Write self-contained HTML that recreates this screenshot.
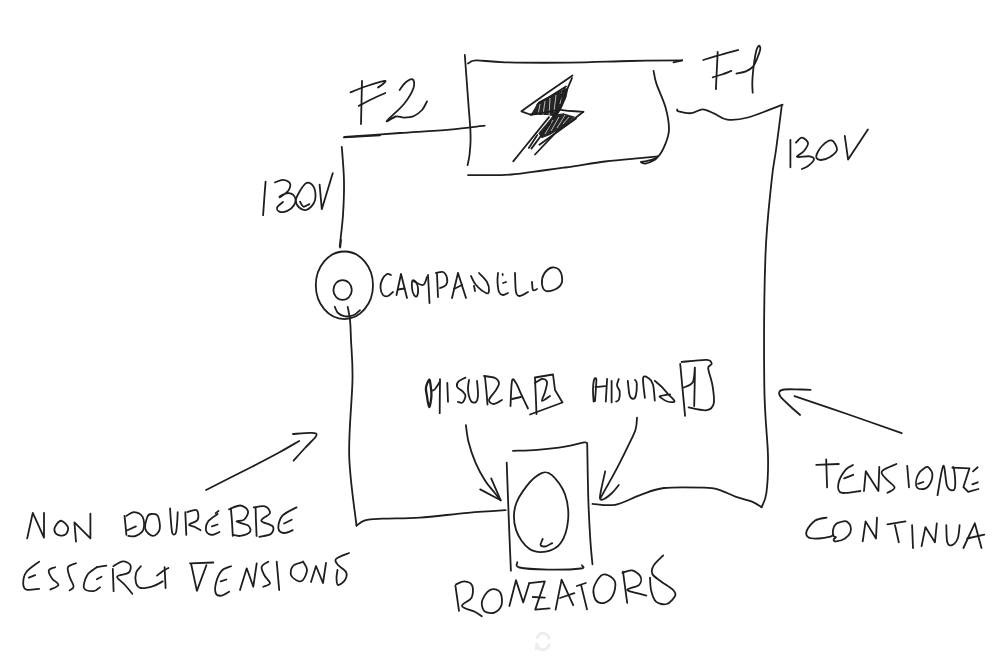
<!DOCTYPE html>
<html><head><meta charset="utf-8"><style>
html,body{margin:0;padding:0;background:#fff;}
body{width:1000px;height:660px;overflow:hidden;font-family:"Liberation Sans",sans-serif;}
svg{display:block;}
</style></head><body>
<svg width="1000" height="660" viewBox="0 0 1000 660">
<rect width="1000" height="660" fill="#fff"/>
<polygon points="530,116 538.3,101.7 558.3,91.7 568.3,87.5 566.7,96.7 561.7,108.3 556.7,116.7 546.7,115 535,115" fill="#262626"/>
<polygon points="538.3,133.3 546.7,123.3 553.3,115 563.3,113.3 575,116.7 563.3,126.7 550,135 541.7,138.3" fill="#262626"/>
<g stroke="#fff" stroke-width="0.9" opacity="0.75" fill="none"><path d="M540,104 L538,115 M545,101 L543,115 M550,98 L549,116 M556,95 L554,112 M562,92 L560,104"/><path d="M545,134 L553,120 M551,131 L559,117 M557,128 L565,115 M563,124 L569,117"/></g>
<ellipse cx="344.4" cy="285.3" rx="28.6" ry="33.8" fill="none" stroke="#1e1e1e" stroke-width="1.8"/>
<ellipse cx="342.6" cy="290" rx="9.2" ry="9.9" fill="none" stroke="#1e1e1e" stroke-width="1.8"/>
<g fill="none" stroke="#ededed" stroke-width="3"><path d="M537,639 A6,6 0 0 1 549,639.5"/><path d="M549,643.5 A6,6 0 0 1 537,644"/><path d="M536.5,643 L536.5,650"/></g>
<g fill="none" stroke="#1e1e1e" stroke-width="1.8" stroke-linecap="round" stroke-linejoin="round">
<path d="M362.0,81.0 C361.9,84.5 361.7,94.8 361.5,102.0 C361.3,109.2 361.1,120.3 361.0,124.0"/>
<path d="M350.5,92.3 C353.2,91.2 361.3,87.9 367.0,86.0 C372.7,84.1 381.8,81.2 384.5,80.9 C387.2,80.6 384.1,82.9 383.0,84.0 C381.9,85.1 378.8,86.9 378.0,87.5"/>
<path d="M358.8,105.9 C361.0,104.8 367.6,101.2 372.0,99.0 C376.4,96.8 383.1,94.0 385.3,93.0"/>
<path d="M399.7,90.0 C400.6,88.8 402.9,84.8 405.0,83.0 C407.1,81.2 411.2,78.6 412.6,79.4 C414.0,80.2 414.9,83.9 413.5,88.0 C412.1,92.1 408.4,98.5 404.0,104.0 C399.6,109.5 388.1,118.9 386.8,121.0 C385.5,123.1 393.1,117.1 396.0,116.5 C398.9,115.9 401.0,117.7 404.0,117.6 C407.0,117.5 411.0,117.3 414.0,116.0 C417.0,114.7 419.8,112.4 422.0,110.0 C424.2,107.6 426.2,102.8 427.0,101.4"/>
<path d="M344.4,137.0 C353.7,136.3 382.4,134.2 400.0,133.0 C417.6,131.8 435.9,130.8 450.0,129.6 C464.1,128.4 478.9,126.3 484.7,125.7"/>
<path d="M344.0,137.4 L380.0,135.3"/>
<path d="M341.8,147.0 C342.2,152.7 343.8,169.7 344.0,181.0 C344.2,192.3 343.7,204.0 343.0,214.9 C342.3,225.8 340.2,241.4 339.7,246.7"/>
<path d="M464.8,55.0 C465.1,59.3 466.1,72.1 466.7,80.7 C467.3,89.3 468.0,98.5 468.6,106.4 C469.2,114.3 470.0,122.7 470.3,128.3 C470.6,133.9 470.7,135.6 470.6,140.0 C470.5,144.4 470.0,150.8 469.5,155.0 C469.0,159.2 467.9,163.5 467.6,165.2"/>
<path d="M468.0,63.5 C469.3,63.0 469.8,60.6 476.0,60.4 C482.2,60.2 489.3,61.9 505.0,62.3 C520.7,62.7 549.2,62.8 570.0,62.6 C590.8,62.4 611.3,61.4 630.0,61.0 C648.7,60.6 673.5,60.4 682.2,60.3"/>
<path d="M673.5,62.4 L682.2,60.3"/>
<path d="M468.0,175.1 C472.7,175.1 488.2,175.3 496.0,175.2 C503.8,175.0 503.5,175.5 515.0,174.2 C526.5,172.9 550.0,169.6 565.0,167.5 C580.0,165.4 592.5,163.1 605.0,161.5 C617.5,159.9 631.1,159.0 640.0,158.2 C648.9,157.3 655.2,156.7 658.2,156.4"/>
<path d="M653.6,70.9 C654.1,73.0 654.4,77.5 656.4,83.6 C658.4,89.7 663.4,99.7 665.5,107.3 C667.6,114.9 669.0,123.0 669.0,129.0 C669.0,135.1 667.3,139.0 665.5,143.6 C663.7,148.2 661.2,153.5 658.2,156.4 C655.2,159.3 650.2,160.0 647.3,160.9 C644.4,161.8 641.2,161.4 640.9,161.8 C640.6,162.2 643.2,163.9 645.5,163.6 C647.8,163.3 652.4,161.2 654.5,160.0 C656.6,158.8 657.6,157.0 658.2,156.4"/>
<path d="M572.5,75.4 L547.0,93.0 L521.4,111.3 L530.0,114.5 L545.0,112.5 L559.5,109.7"/>
<path d="M566.0,86.4 L537.3,104.4"/>
<path d="M572.0,78.0 C571.3,79.6 570.1,82.3 568.0,87.4 C565.9,92.5 562.0,103.7 559.5,108.6 C557.0,113.5 554.3,115.3 553.3,116.7"/>
<path d="M564.8,88.5 L556.4,106.5"/>
<path d="M559.5,109.7 C560.9,109.9 564.0,110.5 568.0,110.8 C572.0,111.1 580.8,111.6 583.4,111.8"/>
<path d="M583.4,111.8 L572.3,120.3 L557.4,130.9 L535.0,154.5"/>
<path d="M576.0,118.6 L539.4,144.7"/>
<path d="M549.0,117.1 L522.4,150.0 L513.2,161.4"/>
<path d="M537.3,135.1 L528.8,147.9"/>
<path d="M550.5,123.0 L531.4,148.6"/>
<path d="M717.7,51.8 C717.6,54.8 717.1,63.8 716.8,70.0 C716.5,76.2 716.0,85.9 715.9,89.1"/>
<path d="M703.2,60.0 C706.0,59.2 714.2,56.7 720.0,55.0 C725.8,53.3 735.2,50.8 738.2,50.0"/>
<path d="M712.7,77.3 C714.2,76.8 718.9,75.6 722.0,74.5 C725.1,73.4 729.8,71.5 731.4,70.9"/>
<path d="M736.4,73.6 C738.0,73.2 743.1,72.6 745.9,71.4 C748.7,70.2 751.3,68.7 753.2,66.4 C755.1,64.1 756.3,60.4 757.5,57.5 C758.7,54.6 760.0,51.0 760.3,49.0 C760.5,47.0 759.6,45.6 759.0,45.8 C758.4,46.0 757.2,47.6 756.5,50.0 C755.8,52.4 755.0,56.7 754.5,60.0 C754.0,63.3 753.6,66.2 753.2,70.0 C752.8,73.8 752.4,78.9 752.3,82.7 C752.2,86.5 752.6,91.0 752.7,92.7"/>
<path d="M677.3,109.5 C677.5,109.8 676.2,110.7 678.5,111.3 C680.8,111.9 687.2,113.5 691.2,113.2 C695.2,112.9 698.9,109.2 702.8,109.3 C706.7,109.4 710.3,112.0 714.4,113.7 C718.5,115.4 721.6,119.0 727.2,119.6 C732.8,120.2 738.6,120.0 747.8,117.5 C757.0,115.0 776.8,106.8 782.6,104.7"/>
<path d="M781.8,105.5 C780.8,112.9 777.7,137.6 776.0,150.0 C774.3,162.4 773.5,162.2 771.7,180.0 C769.9,197.8 766.6,222.7 765.4,257.0 C764.2,291.3 763.9,352.8 764.3,386.0 C764.7,419.2 767.6,438.2 768.0,456.0 C768.4,473.8 767.5,484.3 766.4,492.8 C765.3,501.3 762.4,504.8 761.6,507.2"/>
<path d="M761.6,507.2 C760.0,506.3 756.3,503.3 752.0,501.6 C747.7,499.9 741.6,498.8 736.0,496.8 C730.4,494.8 723.7,491.1 718.4,489.6 C713.1,488.1 713.1,488.0 704.0,487.7 C694.9,487.4 674.7,486.8 664.0,488.0 C653.3,489.2 648.1,492.4 640.0,495.2 C631.9,498.0 623.1,503.4 615.2,504.8 C607.3,506.2 596.3,504.0 592.5,503.9"/>
<path d="M790.4,139.8 C790.4,142.0 790.4,148.4 790.4,153.0 C790.4,157.6 790.4,164.9 790.4,167.3"/>
<path d="M795.9,142.6 C796.9,141.8 799.9,137.5 801.9,137.6 C803.9,137.7 807.6,140.8 808.0,143.0 C808.4,145.2 805.8,148.7 804.0,151.0 C802.2,153.3 796.1,156.0 797.0,156.9 C797.9,157.8 806.8,155.9 809.6,156.3 C812.4,156.8 814.3,158.0 814.0,159.6 C813.7,161.2 810.0,164.4 808.0,166.0 C806.0,167.6 802.9,168.5 801.9,169.0"/>
<path d="M816.2,156.3 C816.4,154.0 819.4,148.7 822.0,146.0 C824.6,143.3 829.1,139.8 831.6,140.4 C834.1,141.0 837.3,146.9 837.0,149.7 C836.7,152.5 832.7,155.3 830.0,157.0 C827.3,158.7 822.9,160.1 820.6,160.0 C818.3,159.9 816.0,158.6 816.2,156.3"/>
<path d="M844.8,136.0 L848.1,159.6 L867.9,129.4"/>
<path d="M265.6,181.6 C265.4,184.3 264.7,192.4 264.3,198.0 C263.9,203.6 263.3,212.3 263.1,215.2"/>
<path d="M275.0,182.4 C276.3,182.0 280.5,179.8 283.0,179.9 C285.5,180.1 288.9,181.7 289.9,183.3 C290.9,184.9 289.9,187.9 289.0,189.7 C288.1,191.5 286.4,192.6 284.8,193.9 C283.2,195.2 280.3,197.1 279.7,197.3 C279.1,197.5 279.8,195.9 281.4,195.2 C282.9,194.5 286.7,192.8 289.0,193.1 C291.3,193.4 294.1,195.3 295.0,197.3 C295.9,199.3 295.4,202.7 294.1,205.0 C292.8,207.3 289.7,209.8 287.3,210.9 C284.9,212.0 281.4,212.4 279.7,211.8 C278.0,211.2 276.6,209.1 277.1,207.5 C277.7,205.9 282.0,202.9 283.0,202.0"/>
<path d="M299.2,192.2 C300.9,189.3 303.9,184.6 306.0,183.3 C308.1,182.0 310.4,183.0 312.0,184.6 C313.6,186.2 315.1,190.0 315.4,193.1 C315.7,196.2 315.3,200.5 313.7,203.3 C312.1,206.1 308.4,209.3 306.0,210.0 C303.6,210.7 300.9,209.1 299.2,207.5 C297.5,205.9 295.8,203.2 295.8,200.7 C295.8,198.1 297.5,195.1 299.2,192.2"/>
<path d="M300.0,201.6 C300.6,202.4 301.9,206.3 303.5,206.7 C305.1,207.1 308.4,204.5 309.4,204.1"/>
<path d="M319.6,184.6 L321.8,209.2 L332.8,173.1"/>
<path d="M341.0,240.0 L340.2,247.5"/>
<path d="M334.8,306.8 C335.3,307.8 336.3,311.4 338.0,313.0 C339.7,314.6 342.3,316.1 345.0,316.4 C347.7,316.7 351.5,316.0 354.0,315.0 C356.5,314.0 359.0,311.0 360.0,310.2"/>
<path d="M347.7,306.8 C348.1,309.0 349.4,314.5 350.0,320.0 C350.6,325.5 350.6,330.1 351.0,340.0 C351.4,349.9 352.8,360.3 352.5,379.6 C352.2,398.9 348.5,431.6 349.2,456.0 C349.9,480.4 355.3,514.1 356.5,525.7"/>
<path d="M356.5,525.7 C357.9,524.8 360.6,521.6 365.0,520.4 C369.4,519.2 373.4,519.2 382.6,518.7 C391.8,518.2 405.8,518.6 420.0,517.6 C434.2,516.6 453.7,514.0 468.0,512.8 C482.3,511.6 499.3,510.6 505.6,510.2"/>
<path d="M391.0,275.0 C390.3,274.8 388.5,273.2 387.0,274.0 C385.5,274.8 383.1,277.7 382.0,280.0 C380.9,282.3 380.3,285.5 380.5,288.0 C380.7,290.5 381.8,293.7 383.0,295.0 C384.2,296.3 386.3,296.5 388.0,296.0 C389.7,295.5 392.2,292.7 393.0,292.0"/>
<path d="M396.5,295.0 L401.0,274.0 L407.0,298.0"/>
<path d="M398.0,289.5 L404.5,288.5"/>
<path d="M412.5,280.5 C411.8,281.5 411.8,285.6 412.0,288.0 C412.2,290.4 413.2,293.7 414.0,295.0 C414.8,296.3 416.3,297.2 417.0,296.0 C417.7,294.8 418.2,290.3 418.0,288.0 C417.8,285.7 416.9,283.2 416.0,282.0 C415.1,280.8 413.2,279.5 412.5,280.5"/>
<path d="M413.0,281.0 C414.7,281.7 420.7,285.7 423.0,285.0 C425.3,284.3 426.3,278.3 427.0,277.0"/>
<path d="M428.0,275.0 L429.5,303.0"/>
<path d="M437.0,274.0 L438.0,297.0"/>
<path d="M436.0,273.0 C437.2,272.8 441.2,271.2 443.0,272.0 C444.8,272.8 446.5,275.8 447.0,278.0 C447.5,280.2 447.2,283.3 446.0,285.0 C444.8,286.7 441.0,287.5 440.0,288.0"/>
<path d="M452.0,298.0 L458.0,273.0 L466.0,298.0"/>
<path d="M454.0,289.0 L462.0,285.0"/>
<path d="M471.0,276.0 C471.8,277.5 473.5,282.2 476.0,285.0 C478.5,287.8 483.8,292.0 486.0,293.0 C488.2,294.0 488.8,292.8 489.0,291.0 C489.2,289.2 488.7,285.0 487.0,282.0 C485.3,279.0 480.3,274.5 479.0,273.0"/>
<path d="M474.0,286.0 L475.0,291.0"/>
<path d="M498.0,273.0 C497.9,274.5 497.3,278.8 497.5,282.0 C497.7,285.2 498.1,289.8 499.0,292.0 C499.9,294.2 501.5,294.8 503.0,295.0 C504.5,295.2 507.2,293.3 508.0,293.0"/>
<path d="M502.5,274.0 L502.8,275.0"/>
<path d="M503.0,283.0 L506.0,282.0"/>
<path d="M515.0,273.0 C515.2,276.2 515.2,288.2 516.0,292.0 C516.8,295.8 518.0,296.0 520.0,296.0 C522.0,296.0 526.7,292.7 528.0,292.0"/>
<path d="M532.0,282.0 C532.2,283.3 532.2,288.8 533.0,290.0 C533.8,291.2 536.3,289.2 537.0,289.0"/>
<path d="M552.0,267.5 C549.3,268.0 545.7,271.2 544.0,274.0 C542.3,276.8 541.7,281.2 542.0,284.0 C542.3,286.8 543.7,290.2 546.0,291.0 C548.3,291.8 553.3,290.5 556.0,289.0 C558.7,287.5 561.3,285.0 562.0,282.0 C562.7,279.0 561.7,273.4 560.0,271.0 C558.3,268.6 554.7,267.0 552.0,267.5"/>
<path d="M429.1,379.8 C428.3,380.2 426.4,384.9 426.0,387.4 C425.6,389.9 426.3,391.7 426.8,395.0 C427.3,398.3 428.3,406.9 429.1,407.1 C429.9,407.4 431.1,400.1 431.4,396.5 C431.6,392.9 431.0,388.0 430.6,385.2 C430.2,382.4 429.9,379.4 429.1,379.8" stroke-width="2.3"/>
<path d="M431.4,390.5 C431.9,390.4 433.0,391.1 434.4,389.7 C435.8,388.3 438.8,383.4 439.7,382.1"/>
<path d="M440.0,379.1 C440.0,381.9 439.9,390.3 439.8,396.0 C439.8,401.7 439.7,410.3 439.7,413.2"/>
<path d="M447.3,382.9 L448.0,401.8"/>
<path d="M465.5,377.6 C464.4,378.2 460.0,379.9 458.6,381.4 C457.2,382.9 456.5,385.1 457.1,386.7 C457.7,388.3 461.0,389.7 462.4,391.2 C463.8,392.7 465.5,393.9 465.5,395.8 C465.5,397.7 463.7,401.6 462.4,402.6 C461.1,403.6 458.6,401.9 457.9,401.8"/>
<path d="M469.0,380.0 C468.8,381.7 467.7,386.5 468.0,390.0 C468.3,393.5 469.7,399.0 471.0,401.0 C472.3,403.0 474.8,403.0 476.0,402.0 C477.2,401.0 477.8,398.5 478.0,395.0 C478.2,391.5 477.2,383.3 477.0,381.0"/>
<path d="M485.0,377.0 C485.2,379.5 486.1,387.4 486.5,392.0 C486.9,396.6 487.3,402.4 487.5,404.5"/>
<path d="M484.0,376.0 C485.8,376.3 492.5,376.8 495.0,378.0 C497.5,379.2 498.8,381.0 499.0,383.0 C499.2,385.0 497.7,387.2 496.0,390.0 C494.3,392.8 489.3,397.7 489.0,400.0 C488.7,402.3 491.8,404.0 494.0,404.0 C496.2,404.0 500.7,400.7 502.0,400.0"/>
<path d="M510.5,406.0 C510.8,401.8 511.1,384.8 512.0,381.0 C512.9,377.2 514.3,380.5 516.0,383.0 C517.7,385.5 520.0,391.8 522.0,396.0 C524.0,400.2 527.0,406.4 528.0,408.5"/>
<path d="M512.0,399.0 L521.0,397.0"/>
<path d="M535.0,378.0 C535.1,381.0 535.5,390.0 535.8,396.0 C536.0,402.0 536.4,411.0 536.5,414.0"/>
<path d="M535.0,377.5 L553.0,374.5 L555.0,390.0 L562.5,402.5 L530.0,414.5"/>
<path d="M535.0,383.0 C536.2,382.3 540.0,379.2 542.0,379.0 C544.0,378.8 546.5,379.8 547.0,382.0 C547.5,384.2 545.8,388.8 545.0,392.0 C544.2,395.2 541.2,400.3 542.0,401.0 C542.8,401.7 548.7,396.8 550.0,396.0"/>
<path d="M465.9,425.2 C466.3,428.1 467.0,436.1 468.6,442.3 C470.2,448.6 472.8,456.3 475.5,462.7 C478.2,469.1 481.8,475.5 485.0,480.5 C488.2,485.5 492.0,489.5 494.6,492.8 C497.2,496.1 499.7,499.1 500.7,500.3"/>
<path d="M480.2,489.4 L500.7,500.3 L491.2,478.4"/>
<path d="M593.6,401.5 C593.5,399.6 592.9,393.6 593.0,390.0 C593.1,386.4 593.5,381.7 594.0,379.9 C594.5,378.1 596.0,377.3 596.3,379.0 C596.6,380.7 596.0,386.3 595.8,390.0 C595.6,393.7 595.1,399.2 595.0,401.0"/>
<path d="M595.4,387.1 L605.3,386.2"/>
<path d="M607.1,379.0 L605.8,401.5"/>
<path d="M611.6,380.8 L611.6,402.4"/>
<path d="M618.8,379.0 C618.5,380.1 616.9,383.2 617.0,385.3 C617.1,387.4 619.4,389.2 619.7,391.6 C620.0,394.0 619.4,398.1 618.8,399.7 C618.2,401.3 616.5,401.2 616.1,401.5"/>
<path d="M627.8,380.8 C628.1,383.2 628.7,392.2 629.6,395.2 C630.5,398.2 632.2,398.8 633.2,398.8 C634.2,398.8 635.3,397.8 635.9,395.2 C636.5,392.6 636.9,386.1 636.8,383.5 C636.6,380.9 635.3,380.5 635.0,379.9"/>
<path d="M644.9,397.9 C644.6,394.6 642.5,381.4 643.1,378.1 C643.7,374.8 646.9,377.1 648.5,378.1 C650.1,379.2 652.0,380.6 653.0,384.4 C654.0,388.1 654.5,397.9 654.8,400.6"/>
<path d="M654.8,380.8 C656.0,381.9 659.8,384.9 662.0,387.1 C664.2,389.4 666.2,391.9 668.3,394.3 C670.4,396.7 674.8,400.3 674.6,401.5 C674.5,402.7 669.6,402.1 667.4,401.5 C665.1,400.9 662.3,398.8 661.1,397.9 C659.9,397.0 658.7,396.7 660.2,396.1 C661.7,395.5 668.5,394.6 670.1,394.3"/>
<path d="M680.2,364.0 L685.1,415.8"/>
<path d="M681.6,362.0 C685.8,361.6 701.8,359.5 706.8,359.8 C711.8,360.1 711.5,362.6 711.7,364.0 C711.9,365.4 708.1,364.7 708.2,368.2 C708.3,371.7 711.5,379.2 712.4,385.0 C713.3,390.8 714.7,399.0 713.8,403.2 C712.9,407.4 711.0,409.5 706.8,410.2 C702.6,410.9 691.6,407.9 688.6,407.4"/>
<path d="M683.0,387.8 C684.6,386.9 690.8,385.5 692.8,382.2 C694.8,378.9 694.7,364.2 694.9,368.2 C695.1,372.2 694.3,399.7 694.2,406.0"/>
<path d="M637.0,417.6 C636.8,419.6 637.0,424.9 635.5,429.7 C634.0,434.5 630.9,440.1 627.9,446.4 C624.9,452.7 620.6,461.3 617.3,467.6 C614.0,473.9 611.0,479.1 608.2,484.2 C605.4,489.2 601.9,495.6 600.6,497.9"/>
<path d="M605.2,471.4 C604.6,474.2 602.4,483.5 601.5,488.0 C600.6,492.5 599.6,496.7 600.0,498.5 C600.4,500.3 602.0,499.9 604.0,499.0 C606.0,498.1 609.5,495.3 612.0,493.0 C614.5,490.7 617.7,486.3 618.8,485.0"/>
<path d="M506.7,462.6 C507.1,472.1 508.1,501.8 508.8,519.8 C509.5,537.8 510.5,562.1 510.9,570.6"/>
<path d="M513.0,450.9 C517.1,450.7 528.7,450.5 537.4,449.8 C546.1,449.1 557.2,447.9 565.0,446.7 C572.8,445.5 580.3,442.9 584.0,442.4 C587.7,441.9 586.7,443.3 587.2,443.5"/>
<path d="M587.2,443.5 C587.4,452.7 587.8,482.4 588.3,498.6 C588.8,514.9 589.7,530.0 590.4,541.0 C591.1,552.0 592.1,560.4 592.5,564.3"/>
<path d="M517.3,562.2 C517.6,563.1 514.3,566.3 519.4,567.5 C524.5,568.7 537.8,569.4 548.0,569.6 C558.2,569.8 575.1,569.2 580.8,568.5 C586.4,567.8 581.7,565.8 581.9,565.3"/>
<path d="M541.6,473.2 C537.4,475.0 531.2,480.3 526.8,485.9 C522.4,491.5 516.9,499.6 515.1,507.0 C513.3,514.4 513.9,523.5 516.2,530.4 C518.5,537.3 524.0,544.9 528.9,548.4 C533.8,551.9 540.6,552.5 545.9,551.6 C551.2,550.7 557.0,548.4 560.7,543.1 C564.4,537.8 567.4,527.9 568.1,519.8 C568.8,511.7 567.6,501.7 565.0,494.3 C562.4,486.9 556.1,478.8 552.2,475.3 C548.3,471.8 545.8,471.4 541.6,473.2"/>
<path d="M542.7,538.9 C542.4,540.0 540.1,544.0 540.6,545.2 C541.1,546.4 544.0,546.6 545.9,546.3 C547.8,545.9 551.2,543.6 552.2,543.1"/>
<path d="M455.4,585.6 L459.0,610.8"/>
<path d="M456.0,584.4 C457.4,583.9 461.7,581.2 464.4,581.4 C467.1,581.6 471.0,582.9 472.2,585.6 C473.4,588.3 473.3,594.2 471.6,597.6 C469.9,601.0 461.4,603.6 462.0,606.0 C462.6,608.4 471.9,610.3 475.2,612.0 C478.5,613.7 480.7,615.5 481.8,616.2"/>
<path d="M482.4,600.0 C483.3,597.9 485.4,594.0 487.2,592.2 C489.0,590.4 491.0,589.1 493.2,589.2 C495.4,589.3 499.0,590.2 500.4,592.8 C501.8,595.4 502.6,601.5 501.6,604.8 C500.6,608.1 497.2,611.5 494.4,612.6 C491.6,613.7 486.9,612.7 484.8,611.4 C482.7,610.1 482.2,606.7 481.8,604.8 C481.4,602.9 481.5,602.1 482.4,600.0"/>
<path d="M509.4,606.0 L516.0,580.2 L523.2,602.4 L529.2,583.2"/>
<path d="M529.2,583.2 L544.8,581.4 L535.2,609.6 L549.6,608.4"/>
<path d="M532.8,597.0 L544.8,597.6"/>
<path d="M555.6,609.6 L561.6,579.6 L573.2,605.2"/>
<path d="M560.0,598.0 L574.4,593.2"/>
<path d="M576.8,586.0 L585.8,583.0"/>
<path d="M581.0,584.8 L587.0,609.4"/>
<path d="M600.8,575.8 C598.4,578.0 594.4,584.3 593.6,588.4 C592.8,592.5 594.2,598.0 596.0,600.4 C597.8,602.8 601.6,603.6 604.4,602.8 C607.2,602.0 611.0,599.0 612.8,595.6 C614.6,592.2 616.0,585.8 615.2,582.4 C614.4,579.0 610.4,576.3 608.0,575.2 C605.6,574.1 603.2,573.6 600.8,575.8"/>
<path d="M623.0,571.6 L627.2,602.8"/>
<path d="M622.4,572.8 C624.0,572.4 629.0,569.8 632.0,570.4 C635.0,571.0 639.2,574.0 640.4,576.4 C641.6,578.8 641.4,582.6 639.2,584.8 C637.0,587.0 627.6,588.2 627.2,589.6 C626.8,591.0 633.6,592.2 636.8,593.2 C640.0,594.2 644.8,595.2 646.4,595.6"/>
<path d="M663.2,555.4 C661.6,557.1 655.4,562.5 653.6,565.6 C651.8,568.7 651.2,571.4 652.4,574.0 C653.6,576.6 657.4,578.6 660.8,581.2 C664.2,583.8 670.4,587.2 672.8,589.6 C675.2,592.0 676.2,593.2 675.2,595.6 C674.2,598.0 670.0,603.0 666.8,604.0 C663.6,605.0 658.6,603.8 656.0,601.6 C653.4,599.4 652.2,594.8 651.2,590.8 C650.2,586.8 650.2,579.8 650.0,577.6"/>
<path d="M206.1,490.0 C213.9,486.0 240.7,472.5 253.0,466.2 C265.3,459.9 272.3,456.2 280.0,452.0 C287.7,447.8 296.0,442.8 299.2,441.0"/>
<path d="M293.0,434.0 C295.8,433.8 306.2,432.9 310.0,432.8 C313.8,432.7 315.1,432.8 316.0,433.5 C316.9,434.2 317.3,434.6 315.5,437.0 C313.7,439.4 308.6,444.1 305.0,448.0 C301.4,451.9 295.5,458.5 293.6,460.6"/>
<path d="M27.2,538.4 L32.8,512.8 L44.0,537.6 L44.0,512.8"/>
<path d="M61.6,520.8 C59.7,520.3 58.0,522.4 56.8,524.0 C55.6,525.6 54.1,528.5 54.4,530.4 C54.7,532.3 56.5,534.5 58.4,535.2 C60.3,535.9 64.0,535.7 65.6,534.4 C67.2,533.1 68.7,529.5 68.0,527.2 C67.3,524.9 63.5,521.3 61.6,520.8"/>
<path d="M76.0,541.6 L74.4,522.4 L90.4,538.4 L90.4,513.6"/>
<path d="M124.5,515.9 C124.7,517.4 125.2,521.8 125.5,525.0 C125.8,528.2 126.2,533.2 126.4,534.9"/>
<path d="M126.4,515.9 C127.7,515.3 131.3,511.9 134.0,512.1 C136.7,512.3 141.0,514.0 142.6,516.9 C144.2,519.8 144.6,526.0 143.5,529.2 C142.4,532.4 138.4,534.8 135.9,535.9 C133.4,537.0 129.6,535.9 128.3,535.9"/>
<path d="M127.4,530.2 L135.9,526.4"/>
<path d="M151.1,514.0 C149.3,514.2 148.2,514.5 147.3,517.0 C146.4,519.5 144.5,526.1 145.4,529.2 C146.3,532.4 150.6,535.9 153.0,535.9 C155.4,535.9 158.9,532.5 159.7,529.2 C160.5,525.9 159.2,518.4 157.8,515.9 C156.4,513.4 152.8,513.8 151.1,514.0"/>
<path d="M170.1,508.3 C170.2,510.6 170.6,517.8 171.0,522.0 C171.4,526.2 171.7,531.7 172.5,533.5 C173.3,535.3 175.0,534.9 175.8,533.0 C176.6,531.1 176.9,525.5 177.2,522.0 C177.5,518.5 177.6,513.8 177.7,512.1"/>
<path d="M185.3,512.1 L186.3,534.9"/>
<path d="M187.2,512.1 C188.8,511.8 194.9,508.9 196.7,510.2 C198.4,511.5 199.0,517.3 197.7,519.7 C196.4,522.1 189.5,523.3 189.1,524.5 C188.7,525.7 193.1,526.0 195.0,527.0 C196.9,528.0 199.6,529.7 200.5,530.2"/>
<path d="M217.6,514.0 C216.0,515.3 210.0,518.8 208.1,521.6 C206.2,524.5 205.6,528.9 206.2,531.1 C206.8,533.3 209.7,534.8 211.9,534.9 C214.1,535.0 218.2,532.5 219.5,532.0"/>
<path d="M211.9,526.4 L217.6,524.5"/>
<path d="M215.7,513.1 L218.5,511.0"/>
<path d="M230.9,508.3 C231.1,510.6 231.7,517.4 232.0,522.0 C232.3,526.6 232.7,533.6 232.8,535.9"/>
<path d="M229.0,509.3 C230.9,508.7 237.2,505.2 240.4,505.5 C243.6,505.8 247.4,508.8 248.0,511.2 C248.6,513.6 246.1,518.0 244.2,519.7 C242.3,521.4 236.0,520.7 236.6,521.6 C237.2,522.5 245.8,523.7 248.0,525.4 C250.2,527.1 251.2,530.2 249.9,532.0 C248.6,533.8 243.2,535.4 240.4,535.9 C237.6,536.4 234.1,535.1 232.8,534.9"/>
<path d="M255.6,507.4 C255.7,509.8 255.8,517.2 256.0,522.0 C256.2,526.8 256.5,533.6 256.6,535.9"/>
<path d="M253.7,507.4 C255.6,507.2 262.4,505.4 265.1,506.4 C267.8,507.3 270.5,510.7 269.9,513.1 C269.3,515.5 260.8,518.5 261.3,520.7 C261.8,522.9 271.1,524.2 272.7,526.4 C274.3,528.6 273.0,532.3 270.8,534.0 C268.6,535.7 261.3,536.3 259.4,536.8"/>
<path d="M296.5,507.4 C294.1,508.8 285.2,512.4 282.2,515.9 C279.2,519.4 278.1,525.4 278.4,528.3 C278.7,531.1 281.7,532.7 284.1,533.0 C286.5,533.3 291.3,530.7 292.7,530.2"/>
<path d="M284.1,523.5 L291.7,519.7"/>
<path d="M39.2,561.6 C37.1,563.3 29.1,568.4 26.4,572.0 C23.7,575.6 23.2,580.3 23.2,583.2 C23.2,586.1 23.7,588.7 26.4,589.6 C29.1,590.5 37.1,588.9 39.2,588.8"/>
<path d="M28.8,577.6 L35.2,575.2"/>
<path d="M55.2,567.2 C54.1,567.7 49.3,568.5 48.8,570.4 C48.3,572.3 50.4,576.0 52.0,578.4 C53.6,580.8 58.7,582.9 58.4,584.8 C58.1,586.7 51.7,588.8 50.4,589.6"/>
<path d="M76.0,563.2 C74.7,563.9 69.1,564.9 68.0,567.2 C66.9,569.5 68.7,573.6 69.6,576.8 C70.5,580.0 73.6,584.1 73.6,586.4 C73.6,588.7 70.3,589.7 69.6,590.4"/>
<path d="M96.8,567.2 C95.2,568.5 89.3,571.7 87.2,575.2 C85.1,578.7 82.9,585.3 84.0,588.0 C85.1,590.7 90.9,591.3 93.6,591.2 C96.3,591.1 98.9,587.9 100.0,587.2"/>
<path d="M96.8,579.2 L101.6,576.8"/>
<path d="M96.8,567.2 L106.4,565.6"/>
<path d="M112.8,568.8 L113.6,591.2"/>
<path d="M113.3,566.2 C114.9,565.4 119.9,561.6 122.8,561.4 C125.7,561.2 129.5,563.3 130.4,565.2 C131.3,567.1 130.7,570.9 128.5,572.8 C126.3,574.7 117.7,574.6 117.1,576.6 C116.5,578.6 122.5,582.1 125.0,585.0 C127.5,587.9 131.1,592.2 132.3,593.7"/>
<path d="M140.9,566.2 C140.1,567.3 136.9,569.9 136.1,572.8 C135.3,575.6 135.3,580.8 136.1,583.3 C136.9,585.8 138.1,587.5 140.9,588.0 C143.8,588.5 149.6,587.2 153.2,586.1 C156.8,585.0 161.1,582.2 162.7,581.4"/>
<path d="M157.0,575.6 C158.0,574.8 161.1,572.3 163.0,571.0 C164.9,569.7 167.5,568.5 168.4,568.0"/>
<path d="M164.6,567.1 L165.6,588.0"/>
<path d="M190.0,563.3 L213.3,562.5"/>
<path d="M191.2,564.3 L196.9,590.9 L206.4,565.2"/>
<path d="M231.1,566.2 C229.5,567.0 224.1,568.0 221.6,570.9 C219.1,573.8 216.8,579.5 215.9,583.3 C215.0,587.1 215.0,591.7 215.9,593.7 C216.8,595.8 219.4,595.9 221.6,595.6 C223.8,595.3 227.9,592.4 229.2,591.8"/>
<path d="M220.7,581.4 L226.4,579.5"/>
<path d="M240.0,590.0 L246.7,568.3 L253.3,586.7 L256.7,563.3"/>
<path d="M268.3,561.7 C267.2,562.5 262.4,564.5 261.7,566.7 C261.0,568.9 262.8,572.2 264.2,575.0 C265.6,577.8 270.1,581.3 270.0,583.3 C269.9,585.2 264.4,586.1 263.3,586.7"/>
<path d="M276.7,561.7 L279.2,590.0"/>
<path d="M303.0,562.0 C301.3,562.7 295.0,563.8 293.0,566.0 C291.0,568.2 290.2,572.5 291.0,575.0 C291.8,577.5 296.0,580.2 298.0,581.0 C300.0,581.8 301.5,581.8 303.0,580.0 C304.5,578.2 307.0,573.1 307.0,570.0 C307.0,566.9 303.7,562.9 303.0,561.5"/>
<path d="M311.0,582.0 L316.0,566.0 L323.0,583.0 L326.0,563.0"/>
<path d="M349.0,553.0 C346.8,554.0 337.8,557.0 336.0,559.0 C334.2,561.0 336.3,562.8 338.0,565.0 C339.7,567.2 344.8,569.5 346.0,572.0 C347.2,574.5 346.3,577.8 345.0,580.0 C343.7,582.2 339.4,585.3 338.0,585.0 C336.6,584.7 336.6,580.5 336.5,578.0 C336.4,575.5 337.3,571.3 337.5,570.0"/>
<path d="M794.5,396.1 C803.8,399.2 832.1,408.8 850.0,415.0 C867.9,421.2 893.1,430.2 901.7,433.2"/>
<path d="M810.6,389.8 C808.0,389.7 799.4,389.4 795.0,389.3 C790.6,389.2 786.6,389.1 784.0,389.5 C781.4,389.9 779.8,390.8 779.3,392.0 C778.8,393.2 779.0,394.7 780.8,397.0 C782.6,399.3 786.8,403.0 790.0,406.0 C793.2,409.0 798.4,413.5 800.1,415.0"/>
<path d="M816.3,464.9 L838.8,464.0"/>
<path d="M826.2,459.5 L827.1,487.4"/>
<path d="M853.0,465.0 C851.8,465.7 848.4,466.6 846.0,469.4 C843.6,472.2 839.8,478.2 838.8,482.0 C837.8,485.8 838.2,490.1 839.7,491.9 C841.2,493.7 844.3,492.9 847.8,492.8 C851.2,492.7 858.3,491.3 860.4,491.0"/>
<path d="M844.2,478.4 L853.2,474.8"/>
<path d="M864.0,491.0 L865.8,471.2 L878.4,491.0 L879.3,467.0"/>
<path d="M896.4,464.0 C894.0,465.2 883.8,468.8 882.0,471.2 C880.2,473.6 883.5,475.7 885.6,478.4 C887.7,481.1 894.3,485.0 894.6,487.4 C894.9,489.8 888.6,491.9 887.4,492.8"/>
<path d="M907.2,465.8 L909.0,487.4"/>
<path d="M925.2,467.6 C923.4,468.8 919.5,471.8 918.0,474.8 C916.5,477.8 915.6,483.2 916.2,485.6 C916.8,488.0 919.5,489.2 921.6,489.2 C923.7,489.2 927.0,488.0 928.8,485.6 C930.6,483.2 932.4,477.8 932.4,474.8 C932.4,471.8 930.0,468.8 928.8,467.6 C927.6,466.4 927.0,466.4 925.2,467.6"/>
<path d="M918.0,483.8 L923.4,482.0"/>
<path d="M937.5,495.2 C938.5,490.3 941.7,467.5 943.3,465.9 C944.9,464.3 945.5,481.6 947.0,485.7 C948.5,489.8 951.1,490.4 952.5,490.4 C953.9,490.4 955.0,489.3 955.2,485.7 C955.4,482.1 954.4,471.6 953.9,468.6 C953.4,465.6 952.7,467.8 952.5,467.6"/>
<path d="M952.5,467.6 L969.5,468.3 L963.4,487.0 L968.2,491.8 L978.4,489.0"/>
<path d="M973.0,471.4 L977.7,467.3"/>
<path d="M972.3,484.3 L977.7,482.3"/>
<path d="M826.6,517.6 C824.7,518.1 818.5,518.3 815.2,520.5 C811.9,522.7 807.8,528.0 806.7,530.9 C805.6,533.8 806.6,536.3 808.6,537.6 C810.6,538.9 815.4,538.7 819.0,538.5 C822.6,538.3 828.0,537.2 830.4,536.6 C832.8,536.0 832.8,535.0 833.3,534.7"/>
<path d="M846.8,521.6 C845.7,520.9 845.6,520.9 843.8,521.3 C842.0,521.7 837.8,522.5 836.0,524.0 C834.2,525.5 833.4,528.0 833.0,530.0 C832.6,532.0 833.1,534.8 833.6,536.0 C834.1,537.2 836.0,536.6 836.0,537.2 C836.0,537.8 833.6,538.9 833.6,539.6 C833.6,540.3 834.1,541.6 836.0,541.4 C837.9,541.2 842.6,539.9 845.0,538.4 C847.4,536.9 849.5,534.5 850.4,532.4 C851.3,530.3 851.0,527.6 850.4,525.8 C849.8,524.0 847.9,522.4 846.8,521.6"/>
<path d="M862.7,541.4 L865.6,521.4 L876.0,538.5 L877.0,517.6"/>
<path d="M887.4,524.3 L905.5,521.4"/>
<path d="M895.0,525.2 L898.8,542.3"/>
<path d="M912.1,525.2 L913.0,548.0"/>
<path d="M921.6,546.1 L925.4,527.1 L934.9,542.3 L936.8,523.3"/>
<path d="M946.3,525.2 C946.5,528.1 946.3,539.0 947.3,542.3 C948.2,545.6 950.3,545.8 952.0,545.2 C953.7,544.6 956.4,541.8 957.7,538.5 C959.0,535.2 959.3,527.4 959.6,525.2"/>
<path d="M963.4,548.0 L974.8,523.3 L981.5,548.0"/>
<path d="M967.2,538.5 L984.3,534.7"/>
</g>
</svg>
</body></html>
